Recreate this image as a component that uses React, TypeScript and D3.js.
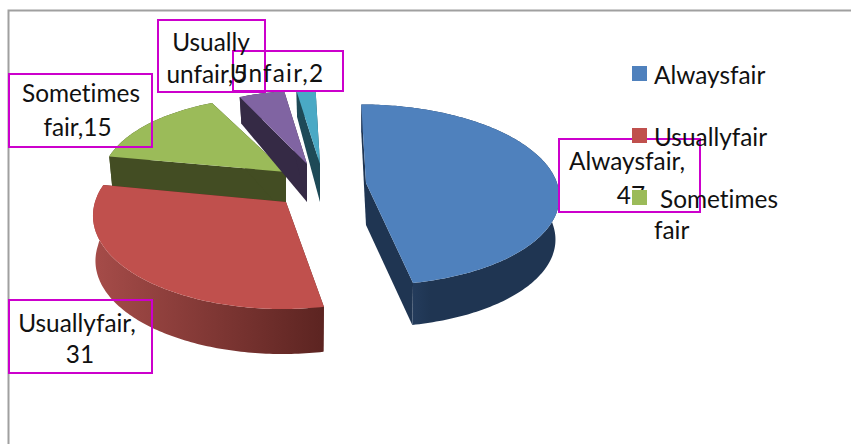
import React from "react";
import * as d3 from "d3";

// Data
const categories = ["Alwaysfair", "Usuallyfair", "Sometimes fair", "Usually unfair", "Unfair"];
const values = [47, 31, 15, 5, 2];
const topColors = ["#4f81bd", "#c0504d", "#9bbb59", "#8064a2", "#4aa9c5"];
const wallStart = ["#2a4468", "#a64c49", "#434d23", "#352a45", "#1e4a57"];
const wallEnd = ["#1f3552", "#5c2421", "#434d23", "#352a45", "#1e4a57"];
const legendLabels = [["Alwaysfair"], ["Usuallyfair"], ["Sometimes", "fair"]];

// Layout of the exploded slices
const apexX = [366, 286, 286, 307, 320];
const apexY = [183, 202, 172, 164, 164];
const radiusScaleX = [1, 1, 0.96, 0.87, 0.9];
const radiusScaleY = [1.02, 1.07, 0.98, 0.95, 0.95];
const shear = [0.06, -0.03, 0.06, 0.06, 0.06];
const depth = [42, 45, 43, 38, 38];
const dropInset = [4, 2.5, 4, 4, 4];
const drawOrder = [2, 3, 4, 0, 1];
const labelLines = [["Alwaysfair,", "47"], ["Usuallyfair,", "31"], ["Sometimes", "fair,15"], ["Usually", "unfair,5"], ["Unfair,2"]];
const labelBoxes = [
  [559, 139, 141, 73],
  [9, 300, 143, 73],
  [9, 74, 143, 73],
  [158, 20, 107, 72],
  [233, 51, 110, 40],
];
const labelBaselines = [[170, 204], [332, 363], [102, 136], [51, 83], [82]];
const labelCenters = [[627, 631], [77, 80], [81, 77.5], [211, 207], [277]];

const RX = 191;
const RY = 87;
const K = 0.13;

const pie = d3.pie<number>().sort(null).startAngle(0).endAngle(2 * Math.PI);
const arcs = pie(values);
const lineGen = d3.line<[number, number]>().x((d) => d[0]).y((d) => d[1]);

function project(i: number, theta: number, r: number): [number, number] {
  const u = Math.sin(theta) * r;
  const v = Math.cos(theta) * r;
  const sc = 1 / (1 + K * v);
  const dy = -RY * v * sc * radiusScaleY[i];
  const dx = RX * u * sc * radiusScaleX[i] + shear[i] * dy;
  return [apexX[i] + dx, apexY[i] + dy];
}
function drop(i: number, p: [number, number], theta: number, r: number): [number, number] {
  const v = Math.cos(theta) * r;
  return [p[0] - dropInset[i] * Math.sin(theta) * r, p[1] + depth[i] * (1 - 0.33 * Math.max(v, 0))];
}

export default function App() {
  const pieces = arcs.map((a, i) => {
    const n = Math.max(6, Math.round((a.endAngle - a.startAngle) * 60));
    const thetas = d3.range(n + 1).map((k) => a.startAngle + ((a.endAngle - a.startAngle) * k) / n);
    const rim = thetas.map((t) => project(i, t, 1));
    const rimLow = thetas.map((t, k) => drop(i, rim[k], t, 1));
    const apex = project(i, 0, 0);
    const apexLow = drop(i, apex, 0, 0);
    const top = lineGen([apex, ...rim])! + "Z";
    const wallOuter = lineGen([...rim, ...rimLow.slice().reverse()])! + "Z";
    const cutA = lineGen([apex, rim[0], rimLow[0], apexLow])! + "Z";
    const cutB = lineGen([apex, rim[n], rimLow[n], apexLow])! + "Z";
    return { top, wallOuter, cutA, cutB, i };
  });

  return (
    <svg width={851} height={444} style={{ position: "absolute", left: 0, top: 0, display: "block", fontVariantLigatures: "none" }} fontFamily="Lato, Carlito, sans-serif">
      <defs>
        {categories.map((_, i) => (
          <linearGradient key={i} id={`wall${i}`} x1="0" x2="1" y1="0" y2="0">
            <stop offset={i === 0 ? "0.15" : "0"} stopColor={wallStart[i]} />
            <stop offset={i === 0 ? "0.35" : "1"} stopColor={wallEnd[i]} />
          </linearGradient>
        ))}
      </defs>
      <rect width={851} height={444} fill="#ffffff" />
      <path d="M8.5,444V10.5H851" fill="none" stroke="#a0a0a0" strokeWidth={2} />
      {drawOrder.map((idx) => {
        const p = pieces[idx];
        return (
          <g key={idx}>
            <path d={p.cutA} fill={wallEnd[idx]} />
            <path d={p.cutB} fill={wallEnd[idx]} />
            <path d={p.wallOuter} fill={`url(#wall${idx})`} />
            <path d={p.top} fill={topColors[idx]} />
          </g>
        );
      })}
      {labelBoxes.map((b, i) => (
        <rect key={i} x={b[0]} y={b[1]} width={b[2]} height={b[3]} fill="none" stroke="#cc00cc" strokeWidth={2} />
      ))}
      {labelLines.map((lines, i) =>
        lines.map((t, j) => (
          <text key={`${i}-${j}`} x={labelCenters[i][j]} y={labelBaselines[i][j]} textAnchor="middle" fontSize={24.4} fill="#111"
            letterSpacing={i === 4 ? 1.2 : 0}>
            {t}
          </text>
        ))
      )}
      {legendLabels.map((lines, i) => (
        <g key={i}>
          <rect x={632} y={66 + i * 62} width={15} height={15} fill={topColors[i]} />
          {lines.map((t, j) => (
            <text key={j} x={i === 2 && j === 0 ? 660 : 654} y={84 + i * 62 + j * 31} fontSize={24.4} fill="#111">
              {t}
            </text>
          ))}
        </g>
      ))}
    </svg>
  );
}
